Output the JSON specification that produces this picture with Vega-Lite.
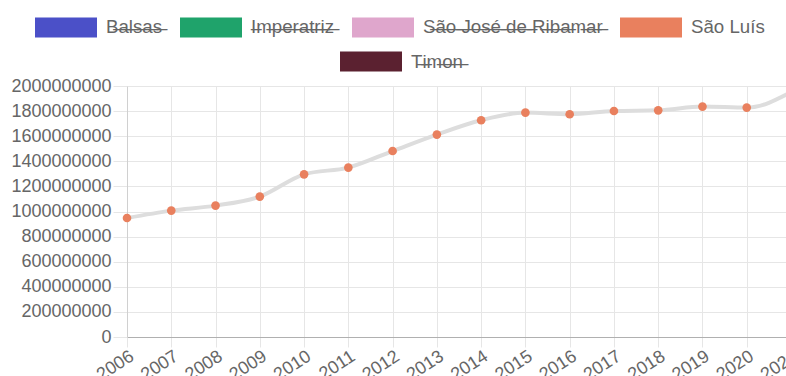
{
  "$schema": "https://vega.github.io/schema/vega-lite/v6.json",
  "width": 664,
  "height": 251,
  "autosize": {"type": "none"},
  "padding": {"left": 127, "top": 86, "right": 0, "bottom": 39},
  "background": "white",
  "config": {
    "font": "Liberation Sans",
    "view": {"stroke": null},
    "axis": {"labelFont": "Liberation Sans", "labelFontSize": 18, "labelColor": "#666666", "title": null, "gridColor": "#e6e6e6", "tickColor": "#e6e6e6"},
    "legend": {"labelFont": "Liberation Sans", "labelFontSize": 18.7, "labelColor": "#666666", "labelLimit": 400}
  },
  "data": {
    "values": [
      {"ano": 2006, "cidade": "São Luís", "valor": 948000000},
      {"ano": 2007, "cidade": "São Luís", "valor": 1007000000},
      {"ano": 2008, "cidade": "São Luís", "valor": 1047000000},
      {"ano": 2009, "cidade": "São Luís", "valor": 1119000000},
      {"ano": 2010, "cidade": "São Luís", "valor": 1296000000},
      {"ano": 2011, "cidade": "São Luís", "valor": 1350000000},
      {"ano": 2012, "cidade": "São Luís", "valor": 1482000000},
      {"ano": 2013, "cidade": "São Luís", "valor": 1613000000},
      {"ano": 2014, "cidade": "São Luís", "valor": 1727000000},
      {"ano": 2015, "cidade": "São Luís", "valor": 1788000000},
      {"ano": 2016, "cidade": "São Luís", "valor": 1775000000},
      {"ano": 2017, "cidade": "São Luís", "valor": 1801000000},
      {"ano": 2018, "cidade": "São Luís", "valor": 1806000000},
      {"ano": 2019, "cidade": "São Luís", "valor": 1836000000},
      {"ano": 2020, "cidade": "São Luís", "valor": 1828000000},
      {"ano": 2021, "cidade": "São Luís", "valor": 1950000000}
    ]
  },
  "encoding": {
    "x": {
      "field": "ano",
      "type": "ordinal",
      "scale": {"type": "point", "padding": 0},
      "axis": {"labelAngle": -33, "labelAlign": "right", "labelBaseline": "top", "grid": true, "tickSize": 10, "domainColor": "#b0b0b0", "labelPadding": 0}
    },
    "y": {
      "field": "valor",
      "type": "quantitative",
      "scale": {"domain": [0, 2000000000], "nice": false},
      "axis": {
        "values": [0, 200000000, 400000000, 600000000, 800000000, 1000000000, 1200000000, 1400000000, 1600000000, 1800000000, 2000000000],
        "format": "d",
        "tickSize": 14,
        "labelPadding": 2,
        "domainColor": "#d0d0d0"
      }
    }
  },
  "layer": [
    {
      "mark": {"type": "line", "interpolate": "monotone", "color": "#dddddd", "strokeWidth": 4}
    },
    {
      "mark": {"type": "point", "filled": true, "size": 75, "opacity": 1},
      "encoding": {
        "color": {
          "field": "cidade",
          "type": "nominal",
          "scale": {
            "domain": ["Balsas", "Imperatriz", "São José de Ribamar", "São Luís"],
            "range": ["#4b50c8", "#1fa36b", "#dfa6cc", "#e9805e"]
          },
          "legend": {
            "orient": "none",
            "legendX": -92,
            "legendY": -90,
            "direction": "horizontal",
            "title": null,
            "symbolType": "M-1,-0.3226H1V0.3226H-1Z",
            "symbolSize": 3844,
            "symbolStrokeWidth": 0,
            "labelOffset": 9,
            "columnPadding": 17,
            "labelExpr": "datum.label === 'São Luís' ? datum.label : replace(datum.label, regexp('(.)', 'g'), '$1\u0336')"
          }
        }
      }
    },
    {
      "transform": [{"filter": "datum.cidade === 'Timon'"}],
      "mark": {"type": "point", "filled": true, "size": 75, "opacity": 1},
      "encoding": {
        "fill": {
          "field": "cidade",
          "type": "nominal",
          "scale": {"domain": ["Timon"], "range": ["#5b2130"]},
          "legend": {
            "orient": "none",
            "legendX": 213,
            "legendY": -55.5,
            "direction": "horizontal",
            "title": null,
            "symbolType": "M-1,-0.3226H1V0.3226H-1Z",
            "symbolSize": 3844,
            "symbolStrokeWidth": 0,
            "labelOffset": 9,
            "labelExpr": "replace(datum.label, regexp('(.)', 'g'), '$1\u0336')"
          }
        }
      }
    }
  ]
}
